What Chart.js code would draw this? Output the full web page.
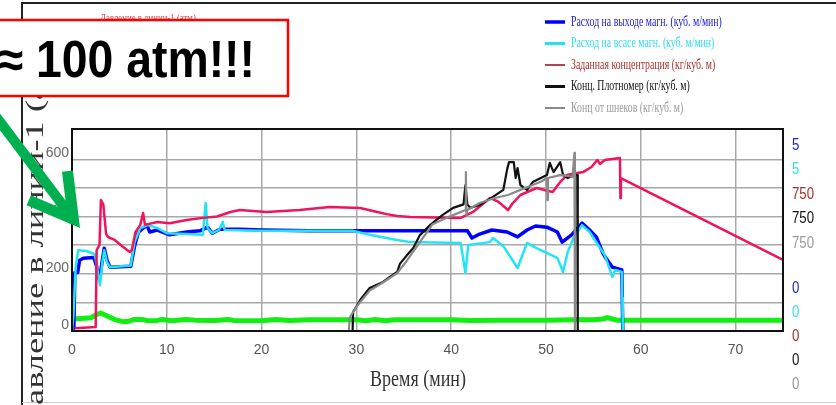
<!DOCTYPE html>
<html lang="ru">
<head>
<meta charset="UTF-8">
<title>Давление в линии-1</title>
<script src="https://cdn.jsdelivr.net/npm/chart.js"></script>
<style>
  body { margin: 0; background: #fff; }
  canvas { display: block; }
</style>
</head>
<body>
<canvas id="chart" width="836" height="405"></canvas>
<script>
// [time (min), value]
const outletFlow = [[0,0],[0.2,0.1],[0.3,1.45],[0.6,1.45],[0.8,1.75],[1.2,1.8],[2.3,1.82],[2.6,1.6],[2.9,1.26],[3.2,1.75],[3.4,2.05],[3.7,1.75],[4.0,1.58],[6.2,1.6],[6.6,2.1],[7.0,2.45],[7.9,2.62],[8.2,2.45],[9.0,2.5],[10.3,2.38],[12.1,2.45],[13.5,2.48],[14.3,2.57],[14.8,2.42],[15.6,2.52],[17.7,2.52],[20,2.5],[25,2.48],[30,2.48],[35,2.48],[41.7,2.48],[42.2,2.3],[43,2.4],[44.3,2.5],[45.9,2.45],[47,2.33],[48,2.5],[48.9,2.6],[50.1,2.57],[51.2,2.45],[51.7,2.2],[52.7,2.38],[53.8,2.67],[54.6,2.5],[55.3,2.33],[56,1.93],[56.3,1.81],[57,1.58],[58,1.51],[58.1,0]];
const suctionFlow = [[0,0],[0.15,0.4],[0.4,1.6],[0.65,2.0],[1.5,1.98],[2.4,1.9],[2.7,1.5],[2.95,1.13],[3.2,1.7],[3.4,2.0],[3.7,1.7],[4.0,1.58],[6.2,1.62],[6.6,2.2],[7.2,2.55],[8,2.62],[9,2.55],[10,2.42],[12,2.4],[13.8,2.38],[14.1,3.17],[14.3,2.55],[14.8,2.42],[15.5,2.5],[15.9,2.7],[16.1,2.5],[20,2.48],[25,2.48],[29.6,2.48],[31.4,2.38],[34.3,2.25],[35.7,2.2],[41,2.18],[41.5,1.44],[41.8,2.13],[44.1,2.2],[44.4,2.3],[45.5,2.1],[47,1.56],[48,2.18],[49,2.05],[51.2,1.81],[51.8,1.46],[52.3,1.96],[52.9,2.3],[53.8,2.62],[54.6,2.45],[56.2,1.88],[57,1.34],[57.3,1.51],[58,1.46],[58.05,0.82],[58.1,0]];
const setConc = [[0.3,10],[2.5,15],[2.6,300],[2.9,320],[3.05,486],[3.3,470],[3.6,360],[3.8,349],[4.5,338],[5.4,312],[6.1,293],[6.3,300],[6.7,368],[7.2,394],[7.5,438],[7.7,394],[9,405],[10.3,400],[12.1,412],[13.8,420],[15.3,425],[16.7,442],[17.7,449],[20.5,442],[24,449],[27.2,460],[30.4,457],[32.2,442],[33.2,434],[34.3,427],[35.7,423],[41,420],[42.3,442],[44.1,494],[45,479],[46,449],[46.5,475],[47.3,505],[49,531],[50.7,516],[51.5,553],[52.2,579],[53.3,587],[53.9,590],[54.8,609],[55.4,635],[55.7,620],[56.2,635],[57.8,642],[57.85,494],[57.9,568],[75,264]];
const densityConc = [[29.6,0],[29.65,70],[30.5,120],[31.4,160],[32.8,182],[33.5,200],[34.3,219],[34.6,250],[35.3,280],[36,308],[36.7,356],[37.8,394],[39.1,431],[40.2,457],[41.3,470],[41.5,542],[41.7,470],[42,457],[43,468],[44.4,498],[45.5,524],[45.9,600],[46.1,627],[46.6,627],[46.8,568],[47,605],[47.3,542],[48,524],[48.6,553],[50.1,579],[50.4,624],[50.8,590],[51.5,627],[51.8,579],[52.3,568],[52.9,579],[53.3,579],[53.35,0]];
const screwConc = [[29.2,0],[29.3,50],[30,90],[31.4,150],[32.8,180],[34.3,215],[35.3,260],[36.7,330],[38,395],[39.5,420],[41.5,449],[41.55,590],[41.6,431],[41.7,449],[43,475],[44.6,494],[46,505],[47.3,524],[48.6,542],[49.5,555],[50.1,568],[50.15,486],[50.2,568],[51.5,579],[52.5,575],[52.8,572],[53.0,661],[53.05,0]];
const pressure = [[0,42],[1,44],[2,46],[2.5,56],[3,63],[3.5,56],[4.5,40],[5.5,32],[6,34],[6.5,40],[7.5,40],[8,36],[9,37],[9.5,40],[10.5,36],[12,40],[13,38],[15,37],[16.5,40],[17,37],[20,36],[21.5,40],[23,37],[25,39],[30,39],[31,36],[32,40],[33,36],[34,39],[40,39],[42,37],[45,38],[50,38],[53,39],[55,39],[56,42],[56.5,47],[57,42],[57.5,38],[60,38],[75,38]];

const seriesNames = ['Расход на выходе магн. (куб. м/мин)', 'Расход на всасе магн. (куб. м/мин)', 'Заданная концентрация (кг/куб. м)', 'Конц. Плотномер (кг/куб. м)', 'Конц от шнеков (кг/куб. м)'];
const rangeTop = ['5', '5', '750', '750', '750'];
const rangeBottom = ['0', '0', '0', '0', '0'];
const xTicks = [0, 10, 20, 30, 40, 50, 60, 70];
const yGrid = [0, 100, 200, 300, 400, 500, 600];
const yLabels = [0, 200, 400, 600];
const yTitle = 'Давление в линии-1 (атм)';
const xTitle = 'Время (мин)';
const note = '100 atm!!!';

const lineColors = ['#0000ff', '#22e4f4', '#f0145c', '#111111', '#8a8a8a'];
const textColors = ['#2020d0', '#30e0ee', '#a8302c', '#111111', '#9a9a9a'];
const swatchWidths = [3.5, 3, 2, 3, 2];

const toXY = arr => arr.map(([x, y]) => ({ x, y }));

function scaledText(ctx, text, x, y, sx) {
    ctx.save();
    ctx.translate(x, y);
    ctx.scale(sx, 1);
    ctx.fillText(text, 0, 0);
    ctx.restore();
}

const overlay = {
    id: 'overlay',
    afterDatasetsDraw(chart) {
        const { ctx, chartArea: a } = chart;
        ctx.save();
        ctx.strokeStyle = '#111';
        ctx.lineWidth = 2;
        ctx.strokeRect(a.left, a.top, a.right - a.left, a.bottom - a.top);
        ctx.restore();
    },
    afterDraw(chart) {
        const ctx = chart.ctx;
        ctx.save();

        // screenshot frame
        ctx.strokeStyle = '#222';
        ctx.lineWidth = 2;
        ctx.beginPath();
        ctx.moveTo(21, 3); ctx.lineTo(836, 3);
        ctx.moveTo(22, 3); ctx.lineTo(22, 405);
        ctx.stroke();
        ctx.strokeStyle = '#ccc';
        ctx.lineWidth = 1;
        ctx.beginPath(); ctx.moveTo(22, 402.5); ctx.lineTo(836, 402.5); ctx.stroke();

        // faint caption behind the note
        ctx.fillStyle = '#e04848';
        ctx.font = '11px "Liberation Serif", serif';
        ctx.textBaseline = 'alphabetic';
        scaledText(ctx, yTitle, 100, 21, 0.8);

        // rotated y title
        ctx.fillStyle = '#333';
        ctx.font = '25px "Liberation Serif", serif';
        const sy = 305 / ctx.measureText('авление в линии-1 (').width;
        const lead = ctx.measureText('Д').width * sy;
        ctx.save();
        ctx.translate(43, 405 + lead);
        ctx.rotate(-Math.PI / 2);
        ctx.scale(sy, 1);
        ctx.textAlign = 'left';
        ctx.fillText(yTitle, 0, 0);
        ctx.restore();

        // x title
        ctx.font = '24px "Liberation Serif", serif';
        ctx.textAlign = 'center';
        scaledText(ctx, xTitle, 418, 386, 0.75);

        // right range labels
        ctx.font = '17px "Liberation Sans Narrow", "Liberation Sans", sans-serif';
        ctx.textAlign = 'left';
        ctx.textBaseline = 'middle';
        rangeTop.forEach((t, i) => {
            ctx.fillStyle = textColors[i];
            scaledText(ctx, t, 792, 145 + i * 24.5, 0.78);
        });
        rangeBottom.forEach((t, i) => {
            ctx.fillStyle = textColors[i];
            scaledText(ctx, t, 792, 288 + i * 24, 0.78);
        });

        // legend
        ctx.font = '14px "Liberation Serif", serif';
        seriesNames.forEach((name, i) => {
            const y = 22 + i * 21.5;
            ctx.strokeStyle = i === 2 ? '#b04848' : lineColors[i];
            ctx.lineWidth = swatchWidths[i];
            ctx.beginPath(); ctx.moveTo(545, y); ctx.lineTo(565, y); ctx.stroke();
            ctx.fillStyle = textColors[i];
            scaledText(ctx, name, 571, y, 0.7);
        });

        // red note box
        ctx.fillStyle = '#fff';
        ctx.fillRect(-5, 20, 293, 76);
        ctx.strokeStyle = '#ff0000';
        ctx.lineWidth = 2.5;
        ctx.strokeRect(-5, 20, 293, 76);
        ctx.fillStyle = '#000';
        ctx.font = 'bold 51px "Liberation Sans", Arial, sans-serif';
        ctx.textAlign = 'left';
        ctx.textBaseline = 'alphabetic';
        const sn = 219 / ctx.measureText(note).width;
        const pre = ctx.measureText('≈ ').width * sn;
        scaledText(ctx, '≈ ' + note, 36 - pre, 77, sn);

        // green arrow
        const tip = { x: 80, y: 228 };
        const back = 233 * Math.PI / 180, half = 30 * Math.PI / 180;
        const L = 58, w = 11;
        const u = ang => ({ x: Math.cos(ang), y: Math.sin(ang) });
        const a1 = back - half, a2 = back + half;
        const o1 = { x: tip.x + L * u(a1).x, y: tip.y + L * u(a1).y };
        const o2 = { x: tip.x + L * u(a2).x, y: tip.y + L * u(a2).y };
        const i1 = { x: o1.x + w * u(a1 + Math.PI / 2).x, y: o1.y + w * u(a1 + Math.PI / 2).y };
        const i2 = { x: o2.x + w * u(a2 - Math.PI / 2).x, y: o2.y + w * u(a2 - Math.PI / 2).y };
        const d = w / Math.sin(half);
        const iv = { x: tip.x + d * u(back).x, y: tip.y + d * u(back).y };
        ctx.fillStyle = '#00b050';
        ctx.beginPath();
        ctx.moveTo(tip.x, tip.y);
        ctx.lineTo(o1.x, o1.y);
        ctx.lineTo(i1.x, i1.y);
        ctx.lineTo(iv.x, iv.y);
        ctx.lineTo(i2.x, i2.y);
        ctx.lineTo(o2.x, o2.y);
        ctx.closePath();
        ctx.fill();
        ctx.strokeStyle = '#00b050';
        ctx.lineWidth = 10;
        ctx.lineCap = 'butt';
        ctx.beginPath();
        ctx.moveTo(tip.x + (d - 4) * u(back).x, tip.y + (d - 4) * u(back).y);
        ctx.lineTo(tip.x + 170 * u(back).x, tip.y + 170 * u(back).y);
        ctx.stroke();

        ctx.restore();
    }
};

Chart.defaults.font.family = '"Liberation Sans Narrow", "Liberation Sans", Arial, sans-serif';

const common = { pointRadius: 0, borderJoinStyle: 'round', tension: 0, fill: false };

new Chart(document.getElementById('chart').getContext('2d'), {
    type: 'line',
    data: {
        datasets: [
            { ...common, label: seriesNames[0], data: toXY(outletFlow), yAxisID: 'yFlow', borderColor: lineColors[0], borderWidth: 3.5, order: 5 },
            { ...common, label: seriesNames[1], data: toXY(suctionFlow), yAxisID: 'yFlow', borderColor: lineColors[1], borderWidth: 2.5, order: 4 },
            { ...common, label: seriesNames[2], data: toXY(setConc), yAxisID: 'yConc', borderColor: lineColors[2], borderWidth: 2.5, order: 3 },
            { ...common, label: seriesNames[3], data: toXY(densityConc), yAxisID: 'yConc', borderColor: lineColors[3], borderWidth: 2.2, order: 2 },
            { ...common, label: seriesNames[4], data: toXY(screwConc), yAxisID: 'yConc', borderColor: lineColors[4], borderWidth: 2.2, order: 1 },
            { ...common, label: 'Давление', data: toXY(pressure), yAxisID: 'y', borderColor: '#12ee12', borderWidth: 5, order: 6 }
        ]
    },
    options: {
        responsive: false,
        animation: false,
        events: [],
        layout: { padding: { left: 0, top: 129, right: 53, bottom: 0 } },
        plugins: { legend: { display: false }, tooltip: { enabled: false } },
        scales: {
            x: {
                type: 'linear', min: 0, max: 75,
                afterBuildTicks: s => { s.ticks = xTicks.map(v => ({ value: v })); },
                afterFit: s => { s.height = 74; },
                grid: { color: '#a8a8a8', lineWidth: 1.5, drawTicks: false },
                border: { color: '#111', width: 2 },
                ticks: { color: '#555', font: { size: 14 }, padding: 11, maxRotation: 0 }
            },
            y: {
                min: 0, max: 706,
                afterBuildTicks: s => { s.ticks = yGrid.map(v => ({ value: v })); },
                afterFit: s => { s.width = 72; },
                grid: { color: '#a8a8a8', lineWidth: 1.5, drawTicks: false },
                border: { color: '#111', width: 2 },
                ticks: {
                    color: '#666', font: { size: 14 }, padding: 3, labelOffset: -6,
                    callback: v => yLabels.includes(v) ? String(v) : ''
                }
            },
            yFlow: { display: false, min: 0, max: 5 },
            yConc: { display: false, min: 0, max: 750 }
        }
    },
    plugins: [overlay]
});
</script>
</body>
</html>
